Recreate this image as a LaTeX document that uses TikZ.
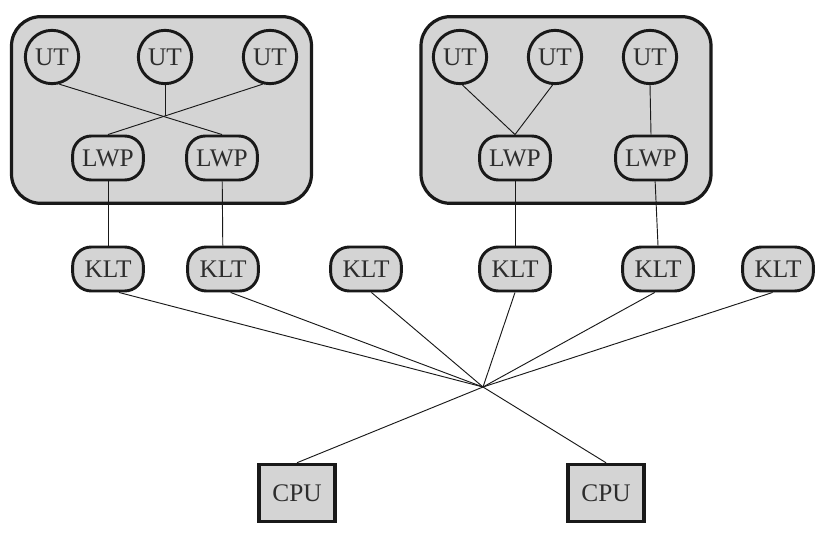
\documentclass[tikz,border=0pt]{standalone}
\usepackage{fontspec}
\setmainfont{Liberation Serif}
\definecolor{fillgray}{RGB}{212,212,212}
\definecolor{inkgray}{RGB}{45,45,45}
\begin{document}
\begin{tikzpicture}[x=0.75pt,y=-0.75pt,
  lbl/.style={font=\fontsize{19}{21}\selectfont, text=inkgray},
  group/.style={draw=black!90, line width=2.4pt, fill=fillgray, rounded corners=22pt, inner sep=0pt},
  ut/.style={lbl, circle, draw=black!90, line width=2.2pt, fill=fillgray, minimum size=40pt, inner sep=0pt},
  pill/.style={lbl, draw=black!90, line width=2.2pt, fill=fillgray, minimum width=53pt, minimum height=33pt, rounded corners=14pt, inner sep=0pt},
  cpu/.style={lbl, draw=black!90, line width=2.4pt, fill=fillgray, minimum width=57pt, minimum height=43pt, inner sep=0pt},
  link/.style={line width=0.7pt, draw=black!90}]
\fill[white] (0,0) rectangle (827,538);
\useasboundingbox (0,0) rectangle (827,538);
% groups
\node[group, minimum width=225pt, minimum height=140pt] (g1) at (161.5,110) {};
\node[group, minimum width=217.5pt, minimum height=140pt] (g2) at (566,110) {};
% left group
\node[ut] (u1) at (52,57) {UT};
\node[ut] (u2) at (165,57) {UT};
\node[ut] (u3) at (270,57) {UT};
\node[pill] (l1) at (108,158) {LWP};
\node[pill] (l2) at (222,158) {LWP};
% right group
\node[ut] (ru1) at (460,57) {UT};
\node[ut] (ru2) at (555,57) {UT};
\node[ut] (ru3) at (650,57) {UT};
\node[pill] (rl1) at (515,158) {LWP};
\node[pill] (rl2) at (651,158) {LWP};
% KLTs
\node[pill] (k1) at (108,269) {KLT};
\node[pill] (k2) at (223,269) {KLT};
\node[pill] (k3) at (366,269) {KLT};
\node[pill] (k4) at (515,269) {KLT};
\node[pill] (k5) at (658,269) {KLT};
\node[pill] (k6) at (778,269) {KLT};
% CPUs
\node[cpu] (c1) at (297,493) {CPU};
\node[cpu] (c2) at (606,493) {CPU};
% crossing points
\coordinate (x) at (483,387);
\coordinate (m) at (intersection of u1.-75--l2.north and u3.-105--l1.north);
% left group links
\draw[link] (u1.-75) -- (l2.north);
\draw[link] (u3.-105) -- (l1.north);
\draw[link] (u2.south) -- (u2.south |- m);
% right group links
\draw[link] (ru1.-85) -- (rl1.north);
\draw[link] (ru2.-95) -- (rl1.north);
\draw[link] (ru3.south) -- (rl2.north);
% LWP to KLT
\draw[link] (l1) -- (k1);
\draw[link] (l2) -- (k2);
\draw[link] (rl1) -- (k4);
\draw[link] (rl2.-80) -- (k5.north);
% KLTs to crossing
\draw[link] (k1.-65) -- (x);
\draw[link] (k2.-72) -- (x);
\draw[link] (k3.-77) -- (x);
\draw[link] (k4.south) -- (x);
\draw[link] (k5.-98) -- (x);
\draw[link] (k6.-103) -- (x);
\draw[link] (x) -- (c1.north);
\draw[link] (x) -- (c2.north);
\end{tikzpicture}
\end{document}
